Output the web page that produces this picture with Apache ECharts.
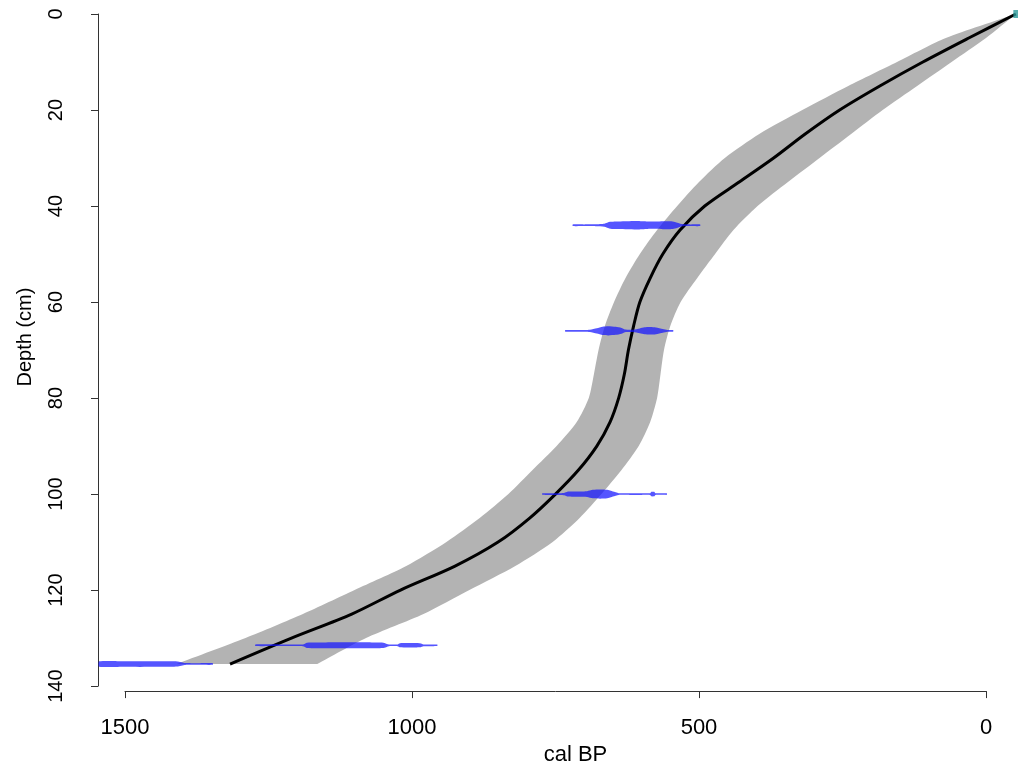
<!DOCTYPE html>
<html><head><meta charset="utf-8">
<script src="https://cdn.jsdelivr.net/npm/echarts@6/dist/echarts.min.js"></script>
<style>html,body{margin:0;padding:0;background:#fff}#c{width:1018px;height:771px}</style>
</head><body><div id="c"></div>
<script>
// Age-depth model (depth in cm, age in cal BP)
const depths     = [0, 5, 10, 15, 20, 25, 30, 35, 40, 45, 50, 55, 60, 65, 70, 75, 80, 85, 90, 95, 100, 105, 110, 115, 120, 125, 130, 135.4];
const modelAge   = [-52, 30, 110, 185, 255, 315, 370, 430, 490, 533, 563, 585, 603, 614, 623, 630, 640, 655, 678, 710, 750, 795, 850, 925, 1020, 1105, 1210, 1317];
const rangeOld   = [-52, 70, 155, 240, 320, 395, 455, 500, 538, 573, 603, 628, 648, 664, 675, 683, 692, 713, 748, 790, 832, 882, 940, 1010, 1100, 1190, 1290, 1410];
const rangeYoung = [-52, 0, 60, 120, 180, 235, 290, 345, 398, 440, 472, 503, 532, 550, 561, 567, 573, 585, 605, 635, 670, 708, 755, 820, 900, 980, 1080, 1165];

// Calibrated dates (depth, ages and relative probability)
const dateDepths = [44, 66, 100, 131.5, 135.4];
const dateAges = [
  [720, 700, 680, 665, 655, 640, 625, 608, 590, 575, 563, 550, 542, 530, 515, 498],
  [733, 710, 690, 678, 668, 658, 645, 635, 629, 615, 603, 595, 585, 575, 563, 555, 545],
  [773, 750, 735, 728, 710, 695, 685, 672, 660, 650, 640, 620, 600, 585, 583, 578, 576, 560, 556],
  [1273, 1230, 1190, 1183, 1150, 1110, 1070, 1050, 1040, 1025, 1021, 1005, 986, 980, 956],
  [1545, 1500, 1450, 1420, 1409, 1395, 1370, 1347]
];
const dateDens = [
  [0.02, 0.03, 0.06, 0.2, 0.7, 0.8, 0.85, 0.9, 0.78, 0.75, 0.85, 0.82, 0.65, 0.12, 0.04, 0.02],
  [0.02, 0.04, 0.1, 0.5, 0.9, 1.0, 0.85, 0.55, 0.15, 0.12, 0.45, 0.72, 0.78, 0.68, 0.3, 0.06, 0.02],
  [0.02, 0.04, 0.1, 0.45, 0.5, 0.55, 0.9, 1.0, 0.9, 0.45, 0.05, 0.03, 0.03, 0.04, 0.4, 0.4, 0.04, 0.02, 0.02],
  [0.02, 0.03, 0.05, 0.5, 0.55, 0.58, 0.55, 0.5, 0.05, 0.05, 0.35, 0.4, 0.35, 0.05, 0.02],
  [0.5, 0.55, 0.55, 0.5, 0.45, 0.05, 0.03, 0.02]
];
const surfaceDate = [[-52, 0]];

const xLabel = 'cal BP';
const yLabel = 'Depth (cm)';

const FONT = 'Liberation Sans, Arial, sans-serif';
const chart = echarts.init(document.getElementById('c'), null, {renderer: 'canvas'});

const bandSeries = {
  type: 'custom',
  clip: false,
  silent: true,
  z: 1,
  data: [[0, 0]],
  renderItem: function (params, api) {
    const young = depths.map((d, i) => api.coord([rangeYoung[i], d]));
    const old = depths.map((d, i) => api.coord([rangeOld[i], d]));
    // repeat the bottom corners so the smoothed outline keeps a flat, sharp base
    young.push(young[young.length - 1].slice());
    old.push(old[old.length - 1].slice());
    const pts = young.concat(old.slice().reverse());
    return {type: 'polygon', shape: {points: pts, smooth: 0.25}, style: {fill: '#b3b3b3', stroke: null}};
  }
};

const lineSeries = {
  type: 'custom',
  clip: false,
  silent: true,
  z: 3,
  data: [[0, 0]],
  renderItem: function (params, api) {
    const pts = depths.map((d, i) => api.coord([modelAge[i], d]));
    return {type: 'polyline', shape: {points: pts, smooth: 0.3}, style: {stroke: '#000', lineWidth: 3, fill: null}};
  }
};

const dateSeries = {
  type: 'custom',
  clip: false,
  silent: true,
  z: 5,
  data: dateDepths.map((d, i) => [i, d]),
  renderItem: function (params, api) {
    const k = params.dataIndex;
    const ages = dateAges[k], dens = dateDens[k], d = dateDepths[k];
    const top = [], bot = [];
    for (let i = 0; i < ages.length; i++) {
      const p = api.coord([ages[i], d]);
      const h = 0.7 + dens[i] * 3.9;
      top.push([p[0], p[1] - h]);
      bot.push([p[0], p[1] + h]);
    }
    const pts = top.concat(bot.reverse());
    return {type: 'polygon', shape: {points: pts, smooth: 0.2}, style: {fill: 'rgba(20,20,255,0.72)', stroke: null}};
  }
};

const option = {
  animation: false,
  backgroundColor: '#ffffff',
  grid: {left: 125, right: 32, top: 14, bottom: 81, containLabel: false},
  xAxis: {
    type: 'value', min: 0, max: 1500, interval: 500, inverse: true,
    position: 'bottom', offset: 5,
    name: xLabel, nameLocation: 'middle', nameGap: 47,
    nameTextStyle: {fontSize: 22, color: '#000', fontFamily: FONT, padding: [0, 0, 0, 40]},
    axisLine: {show: true, onZero: false, lineStyle: {color: '#333', width: 1}},
    axisTick: {show: true, length: 7, inside: false, lineStyle: {color: '#333', width: 1}},
    axisLabel: {fontSize: 22, color: '#000', fontFamily: FONT, margin: 26, formatter: v => String(v)},
    splitLine: {show: false}
  },
  yAxis: {
    type: 'value', min: 0, max: 140, interval: 20, inverse: true,
    position: 'left', offset: 27,
    name: yLabel, nameLocation: 'middle', nameGap: 63,
    nameTextStyle: {fontSize: 20, color: '#000', fontFamily: FONT, padding: [0, 0, 0, 26]},
    axisLine: {show: true, onZero: false, lineStyle: {color: '#333', width: 1}},
    axisTick: {show: true, length: 7, inside: false, lineStyle: {color: '#333', width: 1}},
    axisLabel: {fontSize: 20, color: '#000', fontFamily: FONT, margin: 32, rotate: 90, formatter: v => String(v)},
    splitLine: {show: false}
  },
  series: [
    bandSeries,
    lineSeries,
    dateSeries,
    {
      type: 'scatter', clip: false, silent: true, z: 6,
      data: surfaceDate, symbol: 'rect', symbolSize: [5, 8],
      itemStyle: {color: '#2c9a9a'}
    }
  ]
};
chart.setOption(option);
</script></body></html>
